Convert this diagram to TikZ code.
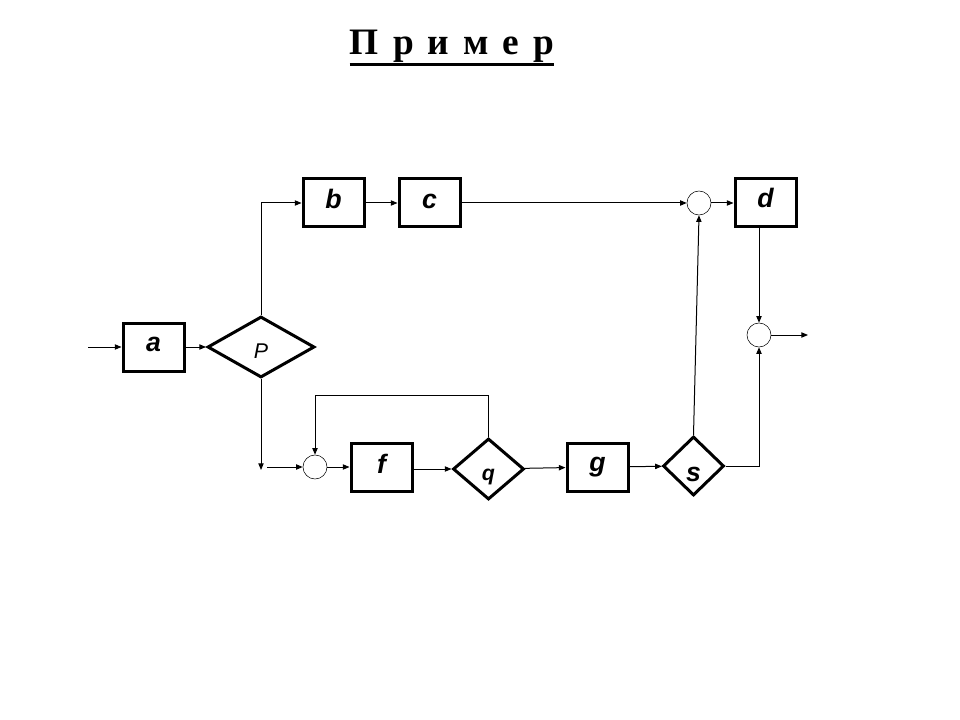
\documentclass[tikz,border=0pt]{standalone}
\usepackage{fontspec}
\setmainfont{Liberation Serif}
\setsansfont{Liberation Sans}
\usetikzlibrary{shapes.geometric, arrows.meta, positioning, calc}
\usepackage{xcolor}
\definecolor{Ink}{HTML}{000000}

\begin{document}
\begin{tikzpicture}[
            x=0.75pt, y=-0.75pt,
            block/.style={
                rectangle,
                draw=Ink,
                fill=white,
                line width=2.25pt,
                minimum height=36pt,
                minimum width=45.75pt,
                inner sep=0pt,
                text height=12pt,
                text depth=3pt,
                font=\sffamily\bfseries\itshape\fontsize{20}{20}\selectfont,
                text=Ink
            },
            decision/.style={
                diamond,
                draw=Ink,
                fill=white,
                line width=2.25pt,
                inner sep=0pt,
                text height=16.5pt,
                text depth=0pt,
                font=\sffamily\bfseries\itshape\fontsize{20}{20}\selectfont,
                text=Ink
            },
            junction/.style={circle, draw=Ink, thin, minimum size=18pt, inner sep=0pt},
            arrow/.style={-{Triangle[length=5pt,width=4pt]}, line width=0.75pt, color=Ink},
            underln/.style={line width=2.25pt, color=Ink}
        ]
            \useasboundingbox (0,0) rectangle (960,720);

            % Title
            \node[anchor=base, inner sep=0pt, font=\bfseries\fontsize{28}{28}\selectfont] (title) at (452,55)
                {П\hspace{10.5pt}р\hspace{10.5pt}и\hspace{10.5pt}м\hspace{10.5pt}е\hspace{10.5pt}р};
            \draw[underln] ([yshift=-7.5pt]title.base west) -- ([yshift=-7.5pt]title.base east);

            % Blocks
            \node[block, text height=9pt] (a) at (153.5,347) {a};
            \node[decision, minimum width=80.25pt, minimum height=45.75pt,
                  font=\sffamily\itshape\fontsize{16}{16}\selectfont] (P) at (261,347) {P};
            \node[block] (b) at (333.5,203) {b};
            \node[block] (c) at (429.5,203) {c};
            \node[junction] (j1) at (699,203) {};
            \node[block, text height=10.5pt] (d) at (765.5,203) {d};
            \node[junction] (j2) at (759,335) {};
            \node[junction] (j0) at (315,467) {};
            \node[block] (f) at (381.5,467) {f};
            \node[decision, minimum width=53.25pt, minimum height=45.75pt,
                  font=\sffamily\bfseries\itshape\fontsize{16}{16}\selectfont] (q) at (488.5,469) {q};
            \node[block, text height=9pt] (g) at (597.5,467) {g};
            \node[decision, minimum width=45.75pt, minimum height=44.25pt,
                  text height=22.5pt] (s) at (693.5,466) {s};

            % Free ends
            \coordinate (in) at (88,347);
            \coordinate (out) at (808,335);
            \coordinate (pend) at (261,470);
            \coordinate (jin) at (267,467);

            % Main flow
            \draw[arrow] (in) -- (a);
            \draw[arrow] (a) -- (P);
            \draw[arrow] (P.north) |- (b.west);
            \draw[arrow] (b) -- (c);
            \draw[arrow] (c) -- (j1);
            \draw[arrow] (j1) -- (d);
            \draw[arrow] (d.south -| j2.north) -- (j2.north);
            \draw[arrow] (j2) -- (out);
            \draw[arrow] (P.south) -- (pend);
            \draw[arrow] (jin) -- (j0);
            \draw[arrow] (j0) -- (f);
            \draw[arrow] (f.east |- q) -- (q);
            \draw[arrow] (q) -- (g);
            \draw[arrow] (g) -- (s);

            % Return paths
            \draw[arrow] (q.north) -- ++(0,-42) -| (j0.north);
            \draw[arrow] (s.north) -- (j1.south);
            \draw[arrow] (s.east) -| (j2.south);
        \end{tikzpicture}
\end{document}
